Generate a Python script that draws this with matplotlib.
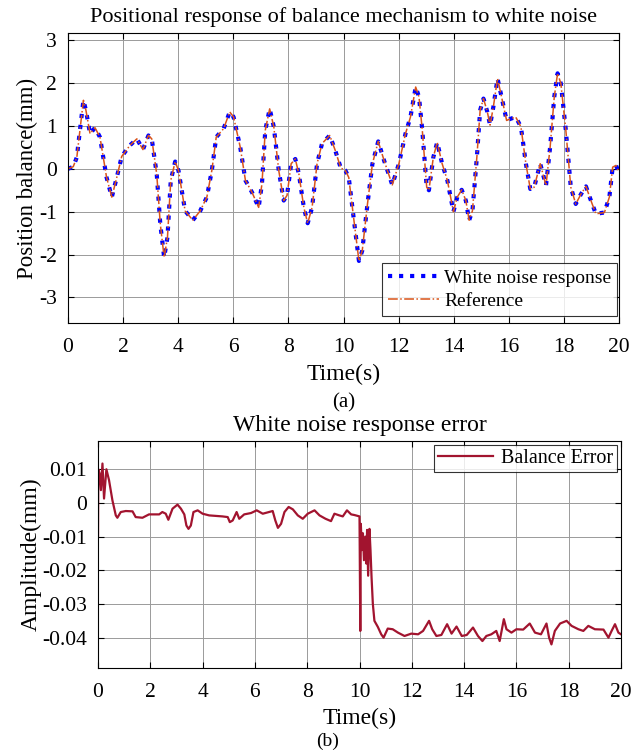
import matplotlib.pyplot as plt
import numpy as np

plt.rcParams['font.family'] = ['Liberation Serif', 'DejaVu Serif']
plt.rcParams['axes.unicode_minus'] = False

# (a) position response
t_pos = [0, 0.19, 0.32, 0.46, 0.56, 0.65, 0.8, 0.98, 1.16, 1.4, 1.59, 1.77, 1.95,
         2.25, 2.5, 2.72, 2.92, 3.04, 3.22, 3.35, 3.49, 3.61, 3.73, 3.89, 4.01,
         4.25, 4.53, 4.8, 5.04, 5.22, 5.38, 5.65, 5.87, 6.01, 6.25, 6.44, 6.68,
         6.92, 7.04, 7.16, 7.32, 7.47, 7.65, 7.83, 7.95, 8.1, 8.25, 8.38, 8.56,
         8.7, 8.86, 9.04, 9.22, 9.5, 9.7, 9.9, 10.07, 10.19, 10.38, 10.56, 10.68,
         10.87, 11.05, 11.26, 11.47, 11.77, 12.01, 12.25, 12.43, 12.62, 12.74,
         12.86, 13.02, 13.1, 13.26, 13.4, 13.58, 13.77, 13.99, 14.13, 14.29,
         14.44, 14.56, 14.68, 14.84, 14.96, 15.08, 15.22, 15.32, 15.44, 15.59,
         15.71, 15.92, 16.07, 16.25, 16.44, 16.62, 16.78, 16.92, 17.14, 17.35,
         17.5, 17.65, 17.77, 17.89, 18.07, 18.25, 18.43, 18.62, 18.8, 18.98,
         19.16, 19.47, 19.65, 19.77, 19.89, 20.0]
pos = [0, 0.05, 0.27, 1.05, 1.6, 1.37, 0.82, 0.96, 0.74, -0.2, -0.66, -0.2, 0.29,
       0.55, 0.7, 0.45, 0.78, 0.7, -0.12, -1.29, -2.07, -1.6, -0.27, 0.17, -0.04,
       -0.98, -1.2, -0.98, -0.66, -0.04, 0.74, 0.94, 1.33, 1.21, 0.51, -0.27, -0.55,
       -0.9, -0.35, 0.9, 1.4, 0.98, -0.04, -0.74, -0.62, 0.12, 0.23, -0.12, -0.9,
       -1.27, -0.9, 0.12, 0.59, 0.78, 0.43, 0.02, -0.04, -0.2, -1.21, -2.15, -1.91,
       -0.82, 0.12, 0.64, 0.2, -0.375, 0.12, 0.82, 1.21, 1.91, 1.68,
       0.9, -0.43, -0.5, 0.27, 0.62, 0.12, -0.27, -1.0, -0.66, -0.49,
       -0.74, -1.2, -0.98, 0.27, 1.37, 1.64, 1.33, 1.02, 1.45, 2.11,
       1.76, 1.13, 1.17, 1.21, 0.98, 0.12, -0.47, -0.43, 0.12, -0.39,
       0.51, 1.68, 2.23, 1.99, 0.9, -0.43, -0.82, -0.59, -0.41, -0.74,
       -1.05, -1.02, -0.66, 0.04, 0.08, -0.08]

# (b) balance error
t_err = [0, 0.01, 0.06, 0.11, 0.17, 0.23, 0.32, 0.42, 0.55, 0.68, 0.74, 0.87, 1.06,
         1.32, 1.44, 1.7, 1.95, 2.34, 2.46, 2.59, 2.69, 2.85, 3.04, 3.17, 3.3,
         3.38, 3.46, 3.55, 3.65, 3.81, 4.0, 4.25, 4.76, 4.96, 5.04, 5.15, 5.3,
         5.4, 5.59, 5.85, 6.07, 6.3, 6.68, 6.78, 6.88, 7.0, 7.13, 7.29, 7.45,
         7.64, 7.83, 8.02, 8.28, 8.47, 8.7, 8.91, 9.04, 9.23, 9.36, 9.52, 9.68,
         9.81, 10.0, 10.03, 10.05, 10.09, 10.13, 10.17, 10.22, 10.26, 10.29,
         10.33, 10.38, 10.42, 10.46, 10.51, 10.57, 10.7, 10.83, 10.92, 11.08,
         11.27, 11.47, 11.72, 11.98, 12.24, 12.43, 12.66, 12.78, 12.94, 13.13,
         13.35, 13.52, 13.71, 13.91, 14.1, 14.34, 14.53, 14.7, 14.85, 15.04,
         15.23, 15.36, 15.52, 15.62, 15.81, 16.0, 16.26, 16.51, 16.71, 16.94,
         17.15, 17.25, 17.34, 17.47, 17.67, 17.92, 18.11, 18.37, 18.56, 18.75,
         19.0, 19.33, 19.52, 19.64, 19.77, 19.9, 20.0]
err = [-0.0097, 0.01, 0.0088, 0.0038, 0.0117, 0.0013, 0.01, 0.0068, 0.0008, -0.0037,
       -0.0044, -0.0027, -0.0024, -0.0025, -0.0042, -0.0044, -0.0034, -0.0034,
       -0.0027, -0.0032, -0.005, -0.0017, -0.0005, -0.0017, -0.0034, -0.0067,
       -0.0077, -0.0067, -0.0027, -0.0022, -0.0032, -0.0037, -0.004, -0.0042,
       -0.0057, -0.0052, -0.0027, -0.0047, -0.0034, -0.003, -0.0022, -0.0032,
       -0.0024, -0.0052, -0.0074, -0.0062, -0.0027, -0.0012, -0.0019, -0.0037,
       -0.0047, -0.0032, -0.0022, -0.0037, -0.0047, -0.0054, -0.0032, -0.0037,
       -0.004, -0.0022, -0.0034, -0.0036, -0.004, -0.038, -0.0062, -0.014,
       -0.009, -0.017, -0.01, -0.018, -0.008, -0.0216, -0.0077, -0.014, -0.022,
       -0.030, -0.035, -0.0368, -0.039, -0.04, -0.0373, -0.0375, -0.0385,
       -0.0395, -0.0388, -0.039, -0.038, -0.035, -0.0375, -0.0395, -0.0392,
       -0.036, -0.0388, -0.0367, -0.0395, -0.0392, -0.037, -0.0395, -0.041,
       -0.0395, -0.039, -0.038, -0.041, -0.0345, -0.0375, -0.0385, -0.0375,
       -0.0376, -0.0358, -0.0385, -0.039, -0.0358, -0.04, -0.042, -0.038,
       -0.0358, -0.035, -0.0365, -0.0375, -0.038, -0.0365, -0.0375, -0.0376,
       -0.04, -0.038, -0.036, -0.0385, -0.039]

fig = plt.figure(figsize=(6.44, 7.53), dpi=100)
ax1 = fig.add_axes([0.1056, 0.5710, 0.8556, 0.3851])
ax2 = fig.add_axes([0.1522, 0.1129, 0.8121, 0.3015])

for ax in (ax1, ax2):
    ax.grid(True, color='#9a9a9a', linewidth=0.7)
    ax.set_axisbelow(True)
    ax.tick_params(direction='in', top=True, right=True, labelsize=15.5, length=4)
    ax.tick_params(axis='x', pad=11)
    ax.tick_params(axis='y', pad=8)
    ax.set_xlim(0, 20)
    ax.set_xticks(np.arange(0, 21, 2))
    for s in ax.spines.values():
        s.set_linewidth(0.8)

# 上图
ax1.plot(t_pos, pos, ':', color='#0000ff', linewidth=3, label='White noise response')
ax1.plot(t_pos, pos, '-.', color='#D95319', linewidth=1.1, label='Reference')
ax1.set_ylim(-3.6, 3.17)
ax1.set_yticks([-3, -2, -1, 0, 1, 2, 3])
ax1.set_title('Positional response of balance mechanism to white noise', fontsize=16, pad=8)
ax1.set_xlabel('Time(s)', fontsize=17, labelpad=5)
ax1.set_ylabel('Position balance(mm)', fontsize=16.5, labelpad=1)
leg1 = ax1.legend(loc='lower right', bbox_to_anchor=(0.997, 0.024), fontsize=14,
                  fancybox=False, edgecolor='black', handlelength=2.6, borderpad=0.3,
                  labelspacing=0.3, handletextpad=0.3, borderaxespad=0)
leg1.get_frame().set_linewidth(0.8)
fig.text(0.5 * (0.1056 * 2 + 0.8556), 1 - 403 / 753, '(a)', ha='center', va='center', fontsize=15)

# 下图
ax2.plot(t_err, err, '-', color='#A2142F', linewidth=1.6, label='Balance Error')
ax2.set_ylim(-0.049, 0.0184)
ax2.set_yticks([-0.04, -0.03, -0.02, -0.01, 0, 0.01])
ax2.set_yticklabels(['-0.04', '-0.03', '-0.02', '-0.01', '0', '0.01'])
ax2.set_title('White noise response error', fontsize=17, pad=7)
ax2.set_xlabel('Time(s)', fontsize=17, labelpad=4)
ax2.set_ylabel('Amplitude(mm)', fontsize=17, labelpad=0)
leg2 = ax2.legend(loc='upper right', fontsize=14.5, fancybox=False, edgecolor='black',
                  handlelength=2.7, borderpad=0.2, handletextpad=0.4, borderaxespad=0.2)
leg2.get_frame().set_linewidth(0.8)
fig.text(0.1522 + 0.8121 / 2 - 0.05, 1 - 741 / 753, '(b)', ha='center', va='center', fontsize=14)

fig.savefig('out.png', dpi=100)
